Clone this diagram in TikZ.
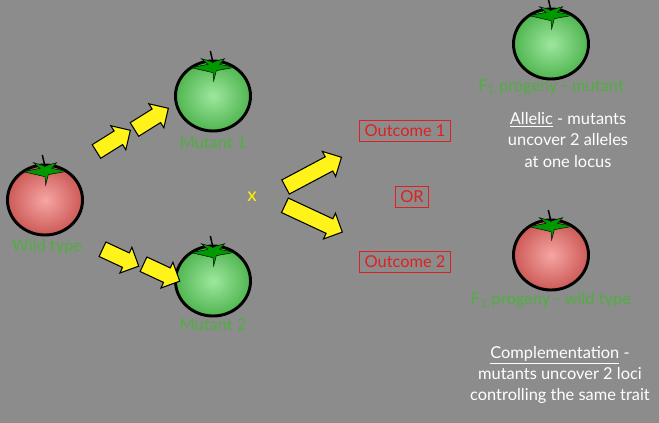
\documentclass[tikz,border=0pt]{standalone}
\usepackage{fontspec}
\setmainfont{Lato}
\usetikzlibrary{shapes.arrows,shapes.geometric}
\definecolor{bg}{HTML}{8C8C8C}
\definecolor{lbl}{HTML}{4FAF3F}
\definecolor{tred}{HTML}{F06A66}
\definecolor{tgreen}{HTML}{5ED65E}
\definecolor{boxred}{HTML}{E02020}
\tikzset{
  lab/.style={text=lbl,font=\fontsize{14}{16}\selectfont},
  note/.style={text=white,font=\fontsize{14}{18}\selectfont,align=center},
  obox/.style={draw=boxred,line width=0.8pt,text=boxred,font=\fontsize{14}{16}\selectfont,inner sep=4pt},
  yarr/.style={single arrow,fill=yellow!90!white,draw=black,line width=0.9pt,minimum height=1.2cm,minimum width=0.85cm,single arrow head extend=0.12cm,single arrow head indent=0cm,inner xsep=0pt,inner ysep=0.14cm},
  fruit/.style={ellipse,draw=black,line width=2.5pt,minimum width=2.25cm,minimum height=2.1cm,inner sep=0pt},
  leaf/.style={fill=green!60!black,draw=black,line width=0.4pt}
}
\newcommand{\tomato}[4]{%
  \node[fruit,inner color=#4!60!white,outer color=#4!85!black] (#1) at (#2,#3) {};
  \begin{scope}[shift={(#2,#3)},x=1cm,y=1cm]
  \fill[leaf] (0,0.7) -- (-0.65,0.85) -- (-0.15,0.95) -- (-0.35,1.12) -- (0,1.02) -- (0.35,1.12) -- (0.2,0.95) -- (0.65,0.86) -- (0.1,0.76) -- (0.02,0.45) -- cycle;
  \draw[line width=1.3pt,black] (0,1.0) -- (-0.08,1.35);
  \end{scope}
}
\begin{document}
\begin{tikzpicture}[x=0.03cm,y=-0.03cm]
\fill[bg] (0,0) rectangle (659,423);
\useasboundingbox (0,0) rectangle (659,423);
\tomato{wt}{45}{200}{tred}
\tomato{m1}{213}{96}{tgreen}
\tomato{m2}{213}{281}{tgreen}
\tomato{f1}{551}{44}{tgreen}
\tomato{f2}{551}{255}{tred}
\node[lab] (wtl) at (47,247) {Wild type};
\node[lab] (m1l) at (213,143) {Mutant 1};
\node[lab] (m2l) at (213,325) {Mutant 2};
\node[lab] (f1l) at (551,87) {F\textsubscript{1} progeny - mutant};
\node[lab] (f2l) at (551,300) {F\textsubscript{1} progeny - wild type};
\node[yarr,rotate=32] (a1) at (110,143) {};
\node[yarr,rotate=32] (a2) at (148,121) {};
\node[yarr,rotate=-25] (a3) at (117,256) {};
\node[yarr,rotate=-25] (a4) at (158,271) {};
\node[yarr,rotate=28,minimum height=1.9cm] (a5) at (310,174) {};
\node[yarr,rotate=-25,minimum height=1.9cm] (a6) at (310,217) {};
\node[text=yellow,font=\fontsize{16}{18}\selectfont] (x) at (252,197) {x};
\node[obox] (o1) at (405,131) {Outcome 1};
\node[obox] (or) at (412,197) {OR};
\node[obox] (o2) at (405,262) {Outcome 2};
\node[note] (al) at (568,140) {\underline{Allelic} - mutants\\uncover 2 alleles\\at one locus};
\node[note] (co) at (560,375) {\underline{Complementation} -\\mutants uncover 2 loci\\controlling the same trait};
\end{tikzpicture}
\end{document}
